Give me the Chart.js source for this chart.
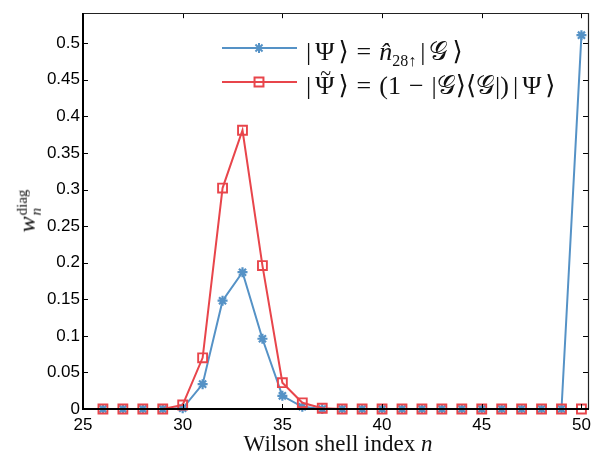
<!DOCTYPE html>
<html><head><meta charset="utf-8">
<script src="https://cdn.jsdelivr.net/npm/chart.js@4/dist/chart.umd.min.js"></script>
<style>
html,body{margin:0;padding:0;background:#fff;}
#wrap{position:relative;width:597px;height:455px;}
canvas{position:absolute;left:0;top:0;}
.serif{font-family:"Liberation Serif","DejaVu Serif",serif;color:#111;position:absolute;white-space:nowrap;}
#xt{left:0;width:676px;top:431px;text-align:center;font-size:23px;line-height:26px;}
#yt{left:29px;top:211px;transform:translate(-50%,-50%) rotate(-90deg);font-size:24px;line-height:24px;}
#yt .st{display:inline-block;vertical-align:middle;font-size:15px;line-height:14px;margin-left:1px;}
.leg{left:306px;font-size:26px;line-height:28px;}
.sp{display:inline-block;width:8px;}
.ts{display:inline-block;width:4px;}
.tl{position:relative;display:inline-block;}
.tl .t{position:absolute;left:5px;top:-13px;font-size:20px;}
</style></head>
<body><div id="wrap"><canvas id="c" width="597" height="455"></canvas>
<div class="serif" id="xt">Wilson shell index <i>n</i></div>
<div class="serif" id="yt"><i>w</i><span class="st">diag<br><i>n</i></span></div>
<div class="serif leg" style="top:38px">|<span class="ts"></span>Ψ<span class="ts"></span>⟩<span class="sp"></span>=<span class="sp"></span><i>n̂</i><sub style="font-size:16px">28↑</sub><span class="ts"></span>|<span class="ts"></span>𝒢<span class="ts"></span>⟩</div>
<div class="serif leg" style="top:72px">|<span class="ts"></span><span class="tl">Ψ<span class="t">~</span></span><span class="ts"></span>⟩<span class="sp"></span>=<span class="sp"></span>(1<span class="sp"></span>−<span class="sp"></span>|𝒢⟩⟨𝒢|)<span class="ts"></span>|<span class="ts"></span>Ψ<span class="ts"></span>⟩</div>
</div>
<script>
const shells = [26,27,28,29,30,31,32,33,34,35,36,37,38,39,40,41,42,43,44,45,46,47,48,49,50];
const psiWeights =  [0,0,0,0,0.001,0.034,0.148,0.187,0.096,0.018,0.003,0,0,0,0,0,0,0,0,0,0,0,0,0,0.511];
const psiTildeWeights = [0,0,0,0,0.0055,0.070,0.302,0.381,0.196,0.036,0.0085,0.001,0,0,0,0,0,0,0,0,0,0,0,0,0];
const xTicks = [25,30,35,40,45,50];
const xTickLabels = ['25','30','35','40','45','50'];
const yTicks = [0,0.05,0.1,0.15,0.2,0.25,0.3,0.35,0.4,0.45,0.5];
const yTickLabels = ['0','0.05','0.1','0.15','0.2','0.25','0.3','0.35','0.4','0.45','0.5'];
const legendLabels = ['psi','psiTilde'];

const BLUE = '#5592c6';
const RED = '#e8454b';

const frame = {
  id:'frame',
  afterDraw(chart){
    const {ctx, chartArea:a, scales:{x,y}} = chart;
    ctx.save();
    ctx.strokeStyle = '#000';
    ctx.lineWidth = 1;
    ctx.beginPath();
    xTicks.forEach(v=>{
      const p = Math.round(x.getPixelForValue(v))+0.5;
      ctx.moveTo(p,a.bottom); ctx.lineTo(p,a.bottom-5);
      ctx.moveTo(p,a.top); ctx.lineTo(p,a.top+5);
    });
    yTicks.forEach(v=>{
      const p = Math.round(y.getPixelForValue(v))+0.5;
      ctx.moveTo(a.left,p); ctx.lineTo(a.left+5,p);
      ctx.moveTo(a.right,p); ctx.lineTo(a.right-5,p);
    });
    ctx.stroke();
    const L=Math.round(a.left), R=Math.round(a.right), T=Math.round(a.top), B=Math.round(a.bottom);
    ctx.strokeStyle='#222'; ctx.lineWidth=1.2;
    ctx.beginPath(); ctx.moveTo(L,T+0.5); ctx.lineTo(R+0.5,T+0.5); ctx.lineTo(R+0.5,B); ctx.stroke();
    ctx.strokeStyle='#000'; ctx.lineWidth=2;
    ctx.beginPath(); ctx.moveTo(L,T); ctx.lineTo(L,B); ctx.lineTo(R+1,B); ctx.stroke();
    const ly = [48,82];
    const cols = [BLUE, RED];
    ly.forEach((yy,i)=>{
      ctx.strokeStyle = cols[i]; ctx.lineWidth = 2;
      ctx.beginPath(); ctx.moveTo(222,yy); ctx.lineTo(297,yy); ctx.stroke();
    });
    ctx.strokeStyle = BLUE; ctx.fillStyle = BLUE;
    Chart.helpers.drawPoint(ctx,{pointStyle:'star',radius:5,rotation:0,borderWidth:2.2},259,48);
    ctx.strokeStyle = RED; ctx.fillStyle='rgba(0,0,0,0)';
    Chart.helpers.drawPoint(ctx,{pointStyle:'rect',radius:6.3,rotation:0,borderWidth:1.8},259,82);
    ctx.restore();
  }
};

new Chart(document.getElementById('c'),{
  type:'line',
  data:{
    labels: shells,
    datasets:[
      {label:legendLabels[0], data: shells.map((s,i)=>({x:s,y:psiWeights[i]})),
       borderColor:BLUE, backgroundColor:BLUE, borderWidth:2, pointStyle:'star',
       pointRadius:5, pointBorderWidth:2.2, pointBorderColor:BLUE, tension:0, clip:false, order:2},
      {label:legendLabels[1], data: shells.map((s,i)=>({x:s,y:psiTildeWeights[i]})),
       borderColor:RED, backgroundColor:'rgba(0,0,0,0)', borderWidth:2, pointStyle:'rect',
       pointRadius:6.3, pointBorderWidth:1.9, pointBorderColor:RED, pointBackgroundColor:'rgba(0,0,0,0)', tension:0, clip:false, order:1}
    ]
  },
  options:{
    responsive:false, animation:false, devicePixelRatio:1,
    layout:{padding:{top:8,right:4,left:0,bottom:0}},
    plugins:{legend:{display:false}, tooltip:{enabled:false}},
    scales:{
      x:{type:'linear', min:25, max:50.33,
         afterBuildTicks(s){ s.ticks = xTicks.map(v=>({value:v})); },
         afterFit(s){ s.height = 46; },
         grid:{display:false, drawTicks:false}, border:{display:false},
         ticks:{color:'#000', font:{family:'Liberation Sans', size:17}, padding:6, maxRotation:0,
                callback:(v)=>xTickLabels[xTicks.indexOf(v)]}},
      y:{type:'linear', min:0, max:0.541,
         afterBuildTicks(s){ s.ticks = yTicks.map(v=>({value:v})); },
         afterFit(s){ s.width = 83; },
         grid:{display:false, drawTicks:false}, border:{display:false},
         ticks:{color:'#000', font:{family:'Liberation Sans', size:17}, padding:3,
                callback:(v)=>yTickLabels[yTicks.indexOf(v)]}}
    }
  },
  plugins:[frame]
});
</script></body></html>
